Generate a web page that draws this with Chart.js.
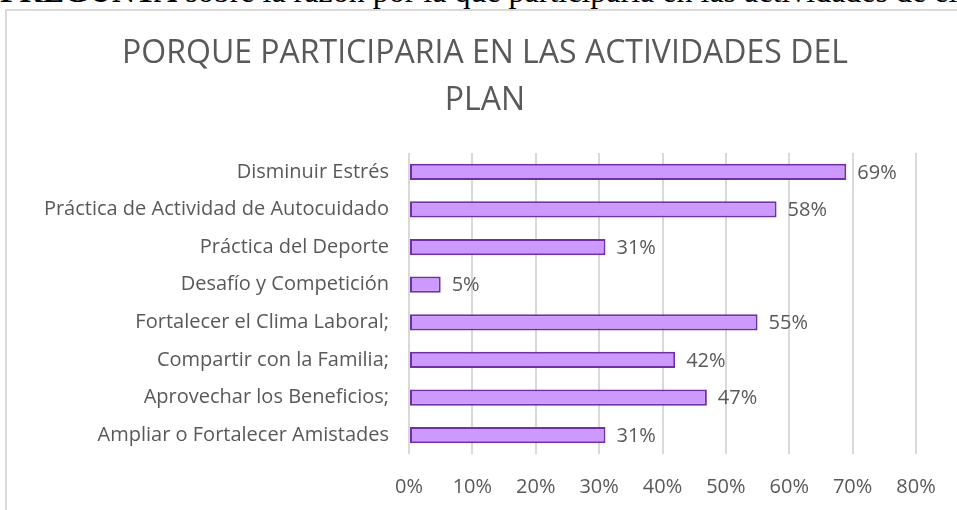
<!DOCTYPE html>
<html>
<head>
<meta charset="utf-8">
<script src="https://cdn.jsdelivr.net/npm/chart.js@4"></script>
<style>
  body { margin: 0; background: #fff; overflow: hidden; width: 957px; height: 510px; position: relative; }
  #topText { position: absolute; left: 0; top: -27px; font-family: "Liberation Serif", serif; font-size: 32px; color: #000; white-space: nowrap; }
  #box { position: absolute; left: 5px; top: 9px; width: 990px; height: 530px; border-left: 2px solid #d9d9d9; border-top: 2px solid #d9d9d9; }
  #signupChart { position: absolute; left: 0; top: 0; }
  #chartTitle { position: absolute; left: 0; top: 27px; width: 970px; text-align: center; font-family: "Open Sans", sans-serif; font-size: 32px; line-height: 47px; color: #595959; }
</style>
</head>
<body>
<div id="topText"><b>PREGUNTA</b> sobre la razón por la que participaría en las actividades de el</div>
<div id="box"><canvas id="signupChart" width="950" height="500"></canvas></div>
<div id="chartTitle">PORQUE PARTICIPARIA EN LAS ACTIVIDADES DEL<br>PLAN</div>
<script>
// categories and values (percent)
const categories = [
  "Disminuir Estrés",
  "Práctica de Actividad de Autocuidado",
  "Práctica del Deporte",
  "Desafío y Competición",
  "Fortalecer el Clima Laboral;",
  "Compartir con la Familia;",
  "Aprovechar los Beneficios;",
  "Ampliar o Fortalecer Amistades"
];
const values = [69, 58, 31, 5, 55, 42, 47, 31];
const tickValues = [0, 10, 20, 30, 40, 50, 60, 70, 80];

const textColor = "#595959";
const font = "'Open Sans', sans-serif";

// value labels at the end of each bar
const barLabels = {
  id: "barLabels",
  afterDatasetsDraw(chart) {
    const ctx = chart.ctx;
    const meta = chart.getDatasetMeta(0);
    ctx.save();
    ctx.font = "20px " + font;
    ctx.fillStyle = textColor;
    ctx.textAlign = "left";
    ctx.textBaseline = "middle";
    meta.data.forEach(function (bar, i) {
      ctx.fillText(values[i] + "%", bar.x + 11, bar.y + 1);
    });
    ctx.restore();
  }
};

const ctx = document.getElementById("signupChart").getContext("2d");
new Chart(ctx, {
  type: "bar",
  data: {
    labels: categories,
    datasets: [{
      data: values,
      backgroundColor: "#cc99ff",
      borderColor: "#7030a0",
      borderWidth: 2,
      borderSkipped: false,
      categoryPercentage: 1,
      barPercentage: 0.43
    }]
  },
  options: {
    indexAxis: "y",
    responsive: false,
    animation: false,
    layout: { padding: { left: 0, right: 41, top: 142, bottom: 0 } },
    plugins: {
      legend: { display: false },
      tooltip: { enabled: false },
      title: { display: false }
    },
    scales: {
      x: {
        min: 0,
        max: 80,
        afterBuildTicks(scale) { scale.ticks = tickValues.map(v => ({ value: v })); },
        afterFit(scale) { scale.height = 57; },
        grid: { color: "#d9d9d9", lineWidth: 2, drawTicks: true, tickLength: 21, tickColor: "rgba(0,0,0,0)" },
        border: { display: false },
        ticks: {
          padding: 0,
          color: textColor,
          font: { family: font, size: 20 },
          callback: v => v + "%"
        }
      },
      y: {
        afterFit(scale) { scale.width = 402; },
        grid: { display: false, drawTicks: false },
        border: { display: false },
        ticks: {
          padding: 20,
          color: textColor,
          font: { family: font, size: 20 },
          autoSkip: false
        }
      }
    }
  },
  plugins: [barLabels]
});
</script>
</body>
</html>
